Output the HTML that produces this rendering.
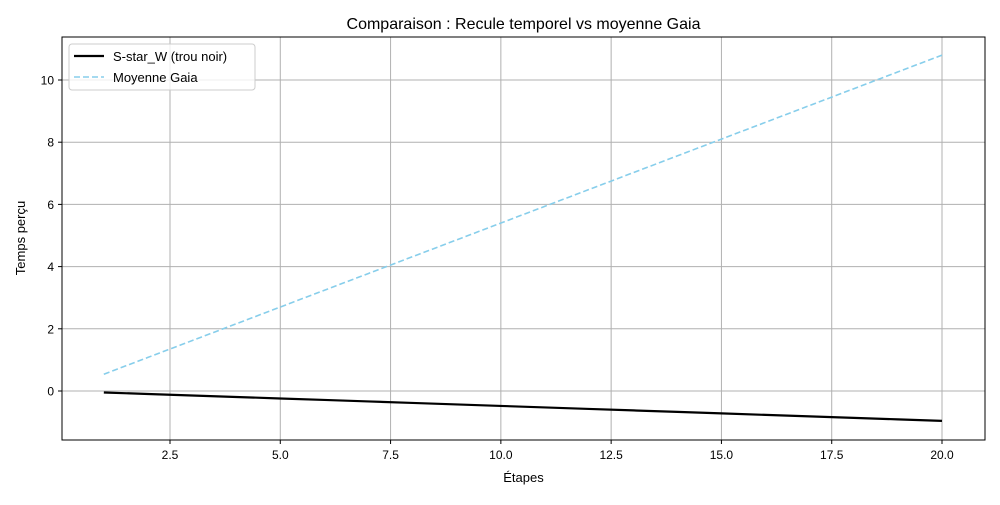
<!DOCTYPE html>
<html><head><meta charset="utf-8"><style>
body{margin:0;background:#fff;font-family:"Liberation Sans","DejaVu Sans",sans-serif;}
svg text{font-family:"Liberation Sans","DejaVu Sans",sans-serif;fill:#000;}
</style></head><body>
<svg id="chart" width="1000" height="500" xmlns="http://www.w3.org/2000/svg">
<rect width="1000" height="500" fill="#fff"/>
<g id="grid"></g>
<g id="series"></g>
<rect x="62" y="37" width="923" height="403" fill="none" stroke="#000" stroke-width="1"/>
<g id="ticks"></g>
<text x="523.5" y="29" font-size="16" text-anchor="middle">Comparaison : Recule temporel vs moyenne Gaia</text>
<text x="523.5" y="482" font-size="13" text-anchor="middle">Étapes</text>
<text x="25" y="238" font-size="13" text-anchor="middle" transform="rotate(-90 25 238)">Temps perçu</text>
<g>
<rect x="69" y="44" width="186" height="46" rx="3" fill="#fff" fill-opacity="0.8" stroke="#ccc"/>
<line x1="74" y1="56" x2="104" y2="56" stroke="#000" stroke-width="2.2"/>
<text x="113" y="61" font-size="13">S-star_W (trou noir)</text>
<line x1="74" y1="77" x2="104" y2="77" stroke="#87ceeb" stroke-width="1.6" stroke-dasharray="6,3"/>
<text x="113" y="82" font-size="13">Moyenne Gaia</text>
</g>
</svg>
<script>
const steps=[1,2,3,4,5,6,7,8,9,10,11,12,13,14,15,16,17,18,19,20];
const sstarValues=[-0.048,-0.096,-0.144,-0.192,-0.24,-0.288,-0.336,-0.384,-0.432,-0.48,-0.528,-0.576,-0.624,-0.672,-0.72,-0.768,-0.816,-0.864,-0.912,-0.96];
const gaiaValues=[0.54,1.08,1.62,2.16,2.7,3.24,3.78,4.32,4.86,5.4,5.94,6.48,7.02,7.56,8.1,8.64,9.18,9.72,10.26,10.8];
const xTicks=[2.5,5,7.5,10,12.5,15,17.5,20];
const xTickLabels=["2.5","5.0","7.5","10.0","12.5","15.0","17.5","20.0"];
const yTicks=[0,2,4,6,8,10];
const yTickLabels=["0","2","4","6","8","10"];
const NS="http://www.w3.org/2000/svg";
const xs=v=>170+(v-2.5)*(772/17.5);
const ys=v=>391-v*31.1;
function mk(t,a,p){const e=document.createElementNS(NS,t);for(const k in a)e.setAttribute(k,a[k]);p.appendChild(e);return e;}
const grid=document.getElementById('grid'),ticks=document.getElementById('ticks'),series=document.getElementById('series');
xTicks.forEach((v,i)=>{const x=xs(v);
const g=mk('line',{x1:x,x2:x,y1:37,y2:440,stroke:'#b0b0b0','stroke-width':1},grid);


const t=mk('line',{x1:x,x2:x,y1:440,y2:444,stroke:'#000'},ticks);


const l=mk('text',{x:x,y:459,'font-size':12,'text-anchor':'middle'},ticks);l.textContent=xTickLabels[i];

});
yTicks.forEach((v,i)=>{const y=ys(v);
const g=mk('line',{x1:62,x2:985,y1:y,y2:y,stroke:'#b0b0b0','stroke-width':1},grid);


const t=mk('line',{x1:58,x2:62,y1:y,y2:y,stroke:'#000'},ticks);


const l=mk('text',{x:54,y:y+4.5,'font-size':12,'text-anchor':'end'},ticks);l.textContent=yTickLabels[i];

});
function pts(vals){return steps.map((s,i)=>xs(s)+','+ys(vals[i])).join(' ');}
const g1=mk('polyline',{points:pts(gaiaValues),fill:'none',stroke:'#87ceeb','stroke-width':1.6,'stroke-dasharray':'6,3'},series);


const s1=mk('polyline',{points:pts(sstarValues),fill:'none',stroke:'#000','stroke-width':2.2},series);


</script>
</body></html>
